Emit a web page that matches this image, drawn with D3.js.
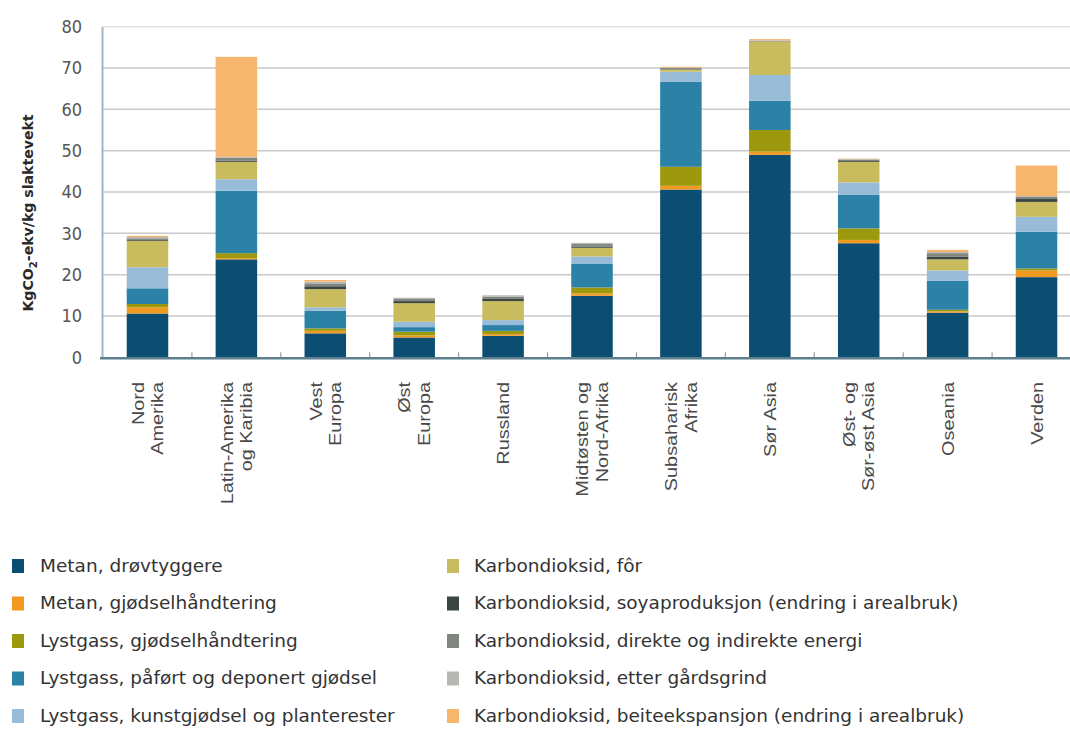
<!DOCTYPE html>
<html>
<head>
<meta charset="utf-8">
<script src="https://cdn.jsdelivr.net/npm/d3@7"></script>
<style>
  html, body { margin: 0; padding: 0; background: #ffffff; }
  svg { display: block; }
</style>
</head>
<body>
<svg id="chart" width="1070" height="731"></svg>
<script>
// ---------- DATA ----------
const categories = [
  "Nord\nAmerika", "Latin-Amerika\nog Karibia", "Vest\nEuropa", "Øst\nEuropa",
  "Russland", "Midtøsten og\nNord-Afrika", "Subsaharisk\nAfrika", "Sør Asia",
  "Øst- og\nSør-øst Asia", "Oseania", "Verden"
];
const yTicks = [0, 10, 20, 30, 40, 50, 60, 70, 80];

const seriesNames = [
  "Metan, drøvtyggere",
  "Metan, gjødselhåndtering",
  "Lystgass, gjødselhåndtering",
  "Lystgass, påført og deponert gjødsel",
  "Lystgass, kunstgjødsel og planterester",
  "Karbondioksid, fôr",
  "Karbondioksid, soyaproduksjon (endring i arealbruk)",
  "Karbondioksid, direkte og indirekte energi",
  "Karbondioksid, etter gårdsgrind",
  "Karbondioksid, beiteekspansjon (endring i arealbruk)"
];
const seriesColors = [
  "#0c4e72", "#f29a1f", "#9d990f", "#2b82a6", "#98bcd7",
  "#c8bc5e", "#3b4541", "#818580", "#b7b8b2", "#f7b66e"
];

const metanDrovtyggere = [10.6, 23.7, 5.8, 4.8, 5.2, 14.9, 40.6, 49.0, 27.6, 10.8, 19.4];
const metanGjodsel     = [1.5, 0.3, 0.6, 0.5, 0.4, 0.6, 0.9, 0.8, 0.8, 0.3, 1.6];
const lystgassGjodsel  = [0.8, 1.2, 0.6, 0.9, 0.8, 1.4, 4.6, 5.2, 2.8, 0.4, 0.5];
const lystgassPafort   = [3.8, 15.1, 4.3, 1.1, 1.4, 5.8, 20.6, 7.1, 8.1, 7.0, 8.9];
const lystgassKunst    = [5.1, 2.8, 0.8, 1.3, 1.2, 1.7, 2.4, 6.2, 3.0, 2.5, 3.6];
const co2For           = [6.4, 4.2, 4.4, 4.5, 4.6, 2.1, 0.5, 8.1, 5.0, 2.7, 3.6];
const co2Soya          = [0.2, 0.3, 0.7, 0.5, 0.5, 0.3, 0.1, 0.0, 0.2, 0.6, 0.7];
const co2Energi        = [0.4, 0.7, 0.7, 0.5, 0.6, 0.6, 0.3, 0.2, 0.3, 0.9, 0.5];
const co2Etter         = [0.3, 0.2, 0.4, 0.3, 0.3, 0.3, 0.1, 0.1, 0.2, 0.3, 0.2];
const co2Beite         = [0.3, 24.2, 0.4, 0.0, 0.0, 0.0, 0.2, 0.3, 0.1, 0.5, 7.4];

const seriesValues = [metanDrovtyggere, metanGjodsel, lystgassGjodsel, lystgassPafort,
  lystgassKunst, co2For, co2Soya, co2Energi, co2Etter, co2Beite];

// ---------- LAYOUT ----------
const plotLeft = 102, plotRight = 1082, axisEnd = 1070;
const yTop = 26.7, yBottom = 357.3;

const svg = d3.select("#chart");

const rows = categories.map((c, i) => {
  const r = { cat: c };
  seriesNames.forEach((s, k) => r[s] = seriesValues[k][i]);
  return r;
});
const stacked = d3.stack().keys(seriesNames)(rows);

const x = d3.scaleBand().domain(categories).range([plotLeft, plotRight])
  .paddingInner(0.533).paddingOuter(0.278);
const y = d3.scaleLinear().domain([0, 80]).range([yBottom, yTop]);
const color = d3.scaleOrdinal().domain(seriesNames).range(seriesColors);

const condensed = "'DejaVu Sans Condensed', 'DejaVu Sans', sans-serif";

// gridlines
svg.append("g").selectAll("line")
  .data(yTicks.filter(t => t > 0))
  .join("line")
  .attr("x1", plotLeft).attr("x2", axisEnd)
  .attr("y1", d => y(d)).attr("y2", d => y(d))
  .attr("stroke", d => d === 80 ? "#e2e2e2" : "#c9c9c9")
  .attr("stroke-width", 1.5);

// bars
svg.append("g").selectAll("g")
  .data(stacked)
  .join("g")
  .attr("fill", d => color(d.key))
  .selectAll("rect")
  .data(d => d)
  .join("rect")
  .attr("x", d => x(d.data.cat))
  .attr("width", x.bandwidth())
  .attr("y", d => y(d[1]))
  .attr("height", d => Math.max(0, y(d[0]) - y(d[1])));

// y axis
const yAxis = svg.append("g")
  .attr("transform", `translate(${plotLeft},0)`)
  .call(d3.axisLeft(y).tickValues(yTicks).tickSize(0).tickPadding(20));
yAxis.select(".domain").attr("stroke", "#9db4c3").attr("stroke-width", 2);
yAxis.selectAll("text")
  .attr("font-family", condensed)
  .attr("font-size", 18)
  .attr("fill", "#555");

// x axis baseline and small ticks between bars
const xAxis = svg.append("g")
  .attr("transform", `translate(0,${yBottom})`)
  .call(d3.axisBottom(x).tickSize(0).tickFormat(""));
xAxis.select(".domain").remove();
xAxis.append("line")
  .attr("x1", plotLeft - 2).attr("x2", axisEnd)
  .attr("y1", 1).attr("y2", 1)
  .attr("stroke", "#5d7f90").attr("stroke-width", 2.5);
xAxis.selectAll(".tick").each(function (d, i) {
  if (i === 0) return;
  const xm = -x.step() / 2;
  d3.select(this).append("line")
    .attr("x1", xm).attr("x2", xm).attr("y1", 0).attr("y2", -5)
    .attr("stroke", "#8a8a8a").attr("stroke-width", 1);
});

// category labels (rotated)
xAxis.selectAll(".tick").each(function (d) {
  const lines = d.split("\n");
  const n = lines.length;
  const g = d3.select(this);
  lines.forEach((ln, i) => {
    const dx = (i - (n - 1) / 2) * 19.5 + 6;
    g.append("text")
      .attr("transform", `translate(${dx},${382 - yBottom}) rotate(-90) scale(1.24,1)`)
      .attr("text-anchor", "end")
      .attr("font-family", "'Liberation Sans', Arial, sans-serif")
      .attr("font-size", 16)
      .attr("fill", "#4a4a4a")
      .text(ln);
  });
});

// y axis title
const yt = svg.append("text")
  .attr("transform", "translate(33,213) rotate(-90) scale(1.12,1)")
  .attr("text-anchor", "middle")
  .attr("font-family", condensed)
  .attr("font-weight", "bold")
  .attr("font-size", 14)
  .attr("fill", "#2a2a2a");
yt.append("tspan").text("KgCO");
yt.append("tspan").attr("font-size", 10).attr("dy", 4).text("2");
yt.append("tspan").attr("dy", -4).text("-ekv/kg slaktevekt");

// legend
const legend = svg.append("g");
seriesNames.forEach((s, i) => {
  const col = i < 5 ? 0 : 1;
  const row = i % 5;
  const sx = col === 0 ? 12 : 447;
  const tx = col === 0 ? 40 : 474;
  const cy = 566 + row * 37.5;
  legend.append("rect")
    .attr("x", sx).attr("y", cy - 7).attr("width", 12).attr("height", 14)
    .attr("fill", color(s));
  legend.append("text")
    .attr("transform", `translate(${tx},${cy}) scale(1.21,1)`)
    .attr("dy", "0.35em")
    .attr("font-family", condensed)
    .attr("font-size", 17)
    .attr("fill", "#333")
    .text(s);
});
</script>
</body>
</html>
